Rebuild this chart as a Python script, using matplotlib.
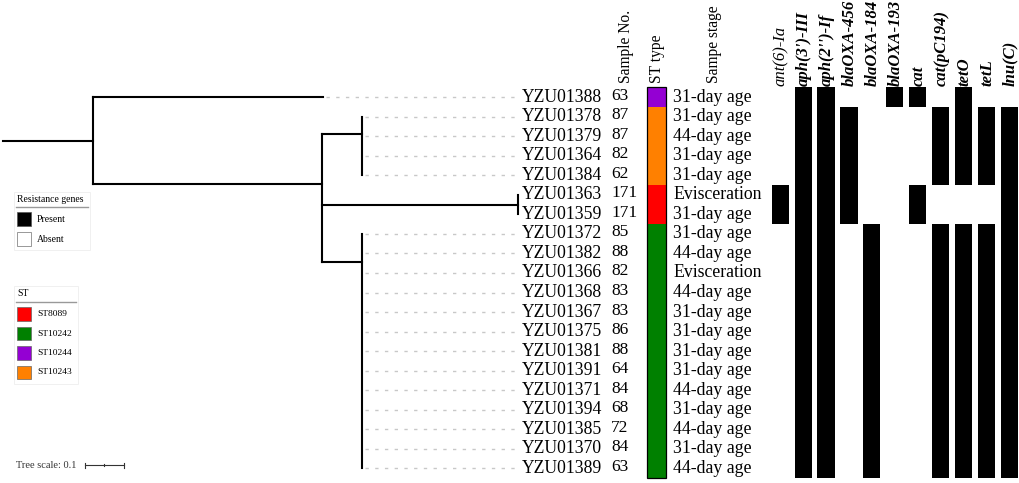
import matplotlib
matplotlib.use('Agg')
import matplotlib.pyplot as plt
from matplotlib.patches import Rectangle

plt.rcParams['font.family'] = ['Liberation Serif', 'DejaVu Serif']

# ---- data ----
samples = ['YZU01388', 'YZU01378', 'YZU01379', 'YZU01364', 'YZU01384',
           'YZU01363', 'YZU01359', 'YZU01372', 'YZU01382', 'YZU01366',
           'YZU01368', 'YZU01367', 'YZU01375', 'YZU01381', 'YZU01391',
           'YZU01371', 'YZU01394', 'YZU01385', 'YZU01370', 'YZU01389']
sample_no = [63, 87, 87, 82, 62, 171, 171, 85, 88, 82,
             83, 83, 86, 88, 64, 84, 68, 72, 84, 63]
stages = ['31-day age', '31-day age', '44-day age', '31-day age', '31-day age',
          'Evisceration', '31-day age', '31-day age', '44-day age', 'Evisceration',
          '44-day age', '31-day age', '31-day age', '31-day age', '31-day age',
          '44-day age', '31-day age', '44-day age', '31-day age', '44-day age']
st_types = ['ST10244', 'ST10243', 'ST10243', 'ST10243', 'ST10243',
            'ST8089', 'ST8089', 'ST10242', 'ST10242', 'ST10242',
            'ST10242', 'ST10242', 'ST10242', 'ST10242', 'ST10242',
            'ST10242', 'ST10242', 'ST10242', 'ST10242', 'ST10242']
genes = ["ant(6)-Ia", "aph(3')-III", "aph(2'')-If", 'blaOXA-456', 'blaOXA-184',
         'blaOXA-193', 'cat', 'cat(pC194)', 'tetO', 'tetL', 'lnu(C)']
# 1 = present, one string per sample, columns in gene order
presence = ['01100110100',
            '01110001111', '01110001111', '01110001111', '01110001111',
            '11110010001', '11110010001',
            '01101001111', '01101001111', '01101001111', '01101001111',
            '01101001111', '01101001111', '01101001111', '01101001111',
            '01101001111', '01101001111', '01101001111', '01101001111',
            '01101001111']
st_legend = ['ST8089', 'ST10242', 'ST10244', 'ST10243']
st_colors = {'ST8089': '#ff0000', 'ST10242': '#008000',
             'ST10244': '#9400d3', 'ST10243': '#ff8000'}

# tree: ('n', branch length, node row, children) / ('l', branch length, leaf index)
tree = ('n', 0.23, 2.25, [
    ('l', 0.59, 0),
    ('n', 0.587, 4.45, [
        ('n', 0.103, 1.89, [('l', 0, i) for i in range(1, 5)]),
        ('n', 0.503, 5.5, [('l', 0, 5), ('l', 0, 6)]),
        ('n', 0.103, 8.44, [('l', 0, i) for i in range(7, 20)]),
    ]),
])

# ---- layout (pixel space) ----
ROW0, DY = 97.0, 19.55
PX = 390.0            # px per tree unit (0.1 -> 39 px)
TREE_X0 = 3.0
LABEL_X = 521.5
HEAT_X0, HEAT_DX, CELL_W = 780.3, 22.9, 17.2
TREE_LW = 1.5


def row_y(r):
    return ROW0 + DY * r


def node_y(nd):
    return row_y(nd[2])


fig = plt.figure(figsize=(10.2, 4.83), dpi=100)
ax = fig.add_axes([0, 0, 1, 1])
ax.set_xlim(0, 1020)
ax.set_ylim(483, 0)
ax.axis('off')

tips = []


def draw(nd, xs):
    xe = xs + nd[1] * PX
    y = node_y(nd)
    if nd[1] > 0:
        ax.plot([xs, xe], [y, y], color='k', lw=TREE_LW, solid_capstyle='projecting')
    if nd[0] == 'n':
        ys = [node_y(c) for c in nd[3]]
        ax.plot([xe, xe], [min(ys), max(ys)], color='k', lw=TREE_LW,
                solid_capstyle='projecting')
        for c in nd[3]:
            draw(c, xe)
    else:
        tips.append((xe, y))


draw(tree, TREE_X0)

# dashed guides from tips to labels
for xt, y in tips:
    if xt < LABEL_X - 6:
        ax.plot([xt + 3, LABEL_X - 1], [y, y], color='#c8c8c8', lw=1,
                linestyle=(0, (2.4, 4.6)))

# labels, sample numbers, stage
for i, s in enumerate(samples):
    y = row_y(i)
    ax.text(LABEL_X, y, s, fontsize=12.7, ha='left', va='center')
    ax.text(611, y - 1.5, str(sample_no[i]), fontsize=12.5, ha='left', va='center')
    ax.text(673, y, stages[i], fontsize=12.8, ha='left', va='center')

# ST colour strip
top = row_y(0) - DY / 2
for i, st in enumerate(st_types):
    ax.add_patch(Rectangle((647, row_y(i) - DY / 2), 19, DY, facecolor=st_colors[st],
                           edgecolor='none'))
ax.add_patch(Rectangle((647, top), 19, DY * len(samples), facecolor='none',
                       edgecolor='k', lw=0.9))

# presence / absence heatmap
for i, row in enumerate(presence):
    for j, v in enumerate(row):
        if v == '1':
            ax.add_patch(Rectangle((HEAT_X0 + j * HEAT_DX - CELL_W / 2, row_y(i) - DY / 2),
                                   CELL_W, DY, facecolor='k', edgecolor='none'))

# headers
ax.text(626, 83, 'Sample No.', rotation=90, fontsize=11.2, ha='center', va='bottom')
ax.text(657, 83, 'ST type', rotation=90, fontsize=11.2, ha='center', va='bottom')
ax.text(714, 83, 'Sampe stage', rotation=90, fontsize=11.2, ha='center', va='bottom')
for j, g in enumerate(genes):
    ax.text(HEAT_X0 + j * HEAT_DX + 1, 86, g, rotation=90, fontsize=12,
            fontstyle='italic', fontweight='normal' if j == 0 else 'bold',
            ha='center', va='bottom')

# legend: resistance genes
ax.add_patch(Rectangle((14, 192), 76, 58, facecolor='white', edgecolor='#eeeeee', lw=0.6))
ax.text(17, 199.5, 'Resistance genes', fontsize=7, ha='left', va='center')
ax.plot([16, 88], [207, 207], color='#999999', lw=1)
ax.add_patch(Rectangle((17.5, 212), 13.5, 13.5, facecolor='k', edgecolor='#555555', lw=0.5))
ax.text(37, 219, 'Present', fontsize=7, ha='left', va='center')
ax.add_patch(Rectangle((17.5, 232), 13.5, 13.5, facecolor='white', edgecolor='#888888', lw=0.6))
ax.text(37, 239, 'Absent', fontsize=7, ha='left', va='center')

# legend: ST
ax.add_patch(Rectangle((14, 286), 64, 98, facecolor='white', edgecolor='#eeeeee', lw=0.6))
ax.text(17, 293.5, 'ST', fontsize=7, ha='left', va='center')
ax.plot([16, 76], [302, 302], color='#999999', lw=1)
for k, st in enumerate(st_legend):
    yk = 307 + k * 19.5
    ax.add_patch(Rectangle((17.5, yk), 13.5, 13.5, facecolor=st_colors[st],
                           edgecolor='#666666', lw=0.5))
    ax.text(37, yk + 7, st, fontsize=6.8, ha='left', va='center')

# tree scale
ax.text(16, 465, 'Tree scale: 0.1', fontsize=7.5, color='#333333', ha='left', va='center')
ax.plot([85, 85 + 0.1 * PX], [465, 465], color='#333333', lw=0.8)
for xb, hh in [(85, 2.5), (85 + 0.05 * PX, 1.2), (85 + 0.1 * PX, 2.5)]:
    ax.plot([xb, xb], [465 - hh, 465 + hh], color='#333333', lw=0.8)

fig.savefig('out.png', dpi=100)
